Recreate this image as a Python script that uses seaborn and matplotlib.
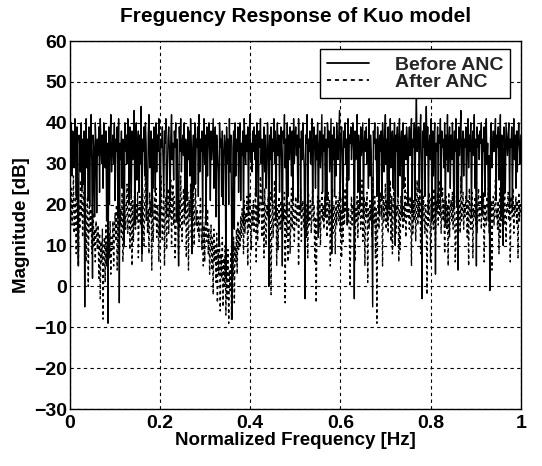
import numpy as np
import pandas as pd
import matplotlib
matplotlib.use("Agg")
import matplotlib.pyplot as plt
import seaborn as sns

title = "Freguency Response of Kuo model"
xlabel = "Normalized Frequency [Hz]"
ylabel = "Magnitude [dB]"
series_names = ["Before ANC", "After ANC"]
xticks = [0, 0.2, 0.4, 0.6, 0.8, 1]
xtick_labels = ["0", "0.2", "0.4", "0.6", "0.8", "1"]
yticks = [-30, -20, -10, 0, 10, 20, 30, 40, 50, 60]

# magnitude (dB), Before ANC
before_db = [
    36, 31, 40, 27, 38, 33, 29, 41, 35, 22, 39, 18, 5, 37, 34, 28, 40, 24, 36, 25,
    38, -5, 33, 41, 29, 36, 21, 39, 20, 35, 42, 30, 2, 37, 33, 17, 40, 34, 18, 36,
    32, 39, 23, 41, 35, 30, 37, 24, 40, 33, 29, 38, 16, 35, -9, 39, 20, 36, 42, 28,
    34, 37, 30, 40, 21, 36, 33, 39, 17, 41, -4, 35, 31, 38, 24, 36, 19, 10, 40, 33,
    37, 30, 41, 35, 20, 39, 33, 22, 38, 31, 36, 43, 15, 35, 40, 26, 34, 38, 23, 37,
    30, 44, 8, 36, 33, 39, 27, 40, 35, 21, 20, 37, 42, 29, 34, 38, 18, 36, 24, 39,
    35, 23, 40, 28, 37, 33, 41, 29, 12, 36, 34, 39, 30, 22, 38, 35, 41, 17, 27, 36,
    39, 33, 21, 37, 42, 31, 35, 26, 38, 34, 40, 16, 36, 19, 5, 39, 33, 41, 28, 35,
    37, 32, 40, 18, 36, 34, 21, 39, 31, 38, 27, 41, 35, 8, 33, 37, 24, 40, 25, 36,
    34, 39, 22, 42, 28, 36, 33, 38, 18, 35, 41, 30, 37, 15, 39, 27, 36, 40, 33, 21,
    38, 31, 36, 41, 24, 35, 39, 17, 37, 33, 28, 10, 40, 34, 36, 22, 38, 20, 32, 37,
    35, 2, 39, 30, 36, 20, 41, 28, 37, 19, -8, 34, 38, 14, 40, 27, 36, 33, 39, 23,
    36, 40, 21, 35, 32, 38, 15, 41, 34, 30, 37, 33, 39, 18, 36, 42, 31, 35, 28, 38,
    33, 39, 31, 37, 22, 40, 35, 16, 38, 34, 41, 30, 36, 20, 33, 39, 28, 37, 24, 31,
    40, 34, 0, 37, 31, 39, 21, 36, 33, 41, 30, 38, 17, 35, 40, 32, 37, 23, 34, 39,
    31, 5, 38, 35, 42, 29, 36, 18, 40, 22, 37, 31, 39, 34, 27, 38, 21, 41, 30, 36,
    39, 32, 37, 21, 41, 34, 36, 19, 38, 31, 40, 33, 29, -3, 37, 35, 42, 16, 36, 33,
    38, 30, 36, 41, 20, 35, 39, 33, 24, 37, 31, 40, 12, 34, 38, 29, 36, 42, 23, 37,
    33, 39, 17, 36, 21, 40, 34, 38, 28, 35, 41, 8, 37, 31, 39, 22, 36, 27, 40, 35,
    31, 37, 43, 21, 35, 39, 32, 18, 38, 34, 40, 30, 36, 15, 41, 26, 37, 35, 39, 31,
    36, 40, 33, -3, 38, 31, 35, 42, 23, 37, 34, 20, 39, 32, 36, 40, 17, 35, 38, 33,
    39, 30, 36, 24, 41, 27, 37, 33, 15, -5, 38, 35, 40, 31, 36, 22, 39, 34, 18, 37,
    33, 38, 21, 40, 35, 28, 37, 42, 30, 36, 16, 39, 19, 33, 41, 29, 36, 38, 24, 35,
    40, 10, 37, 33, 39, 22, 36, 41, 27, 35, 38, 17, 40, 24, 34, 37, 31, 39, 36, 20,
    35, 39, 32, 37, 41, 18, 36, 34, 40, 21, 38, 46, 33, 35, 39, 23, 37, 42, 31, -3,
    38, 34, 40, 22, 36, 44, 32, 39, 18, 35, 37, 31, 41, 16, 38, 27, 36, 40, 3, 35,
    33, 39, 20, 37, 35, 41, 22, 38, 34, 36, 29, 40, 15, 37, 31, 42, 28, 35, 39, 24,
    37, 31, 40, 35, 19, 38, 33, 41, 20, 36, 4, 39, 32, 37, 43, 23, 35, 38, 27, 36,
    34, 39, 21, 36, 41, 29, 37, 33, 40, 17, 35, 38, 32, 42, 24, 36, 5, 39, 34, 37,
    31, 38, 35, 40, 18, 36, 33, 39, 22, 37, 41, 30, 35, 16, 32, -1, 36, 40, 29, 34,
    38, 33, 36, 41, 21, 37, 34, 39, 26, 35, 42, 17, 37, 33, 10, 39, 35, 23, 40, 36,
    32, 37, 40, 20, 36, 34, 39, 19, 35, 41, 31, 37, 24, 38, 28, 36, 40, 34, 30, 37,
]

# magnitude (dB), After ANC
after_db = [
    21, 17, 24, 15, 20, 27, 13, 19, 22, 8, 24, 18, 5, 20, 14, 26, 17, 25, 12, 19,
    23, 16, 20, 6, 18, 22, 0, 17, 21, 13, 19, 8, 15, 18, 10, 14, 6, 16, 12, 9,
    15, 2, 13, -3, 11, 6, 14, -8, 9, 12, 1, 15, 5, 10, -2, 13, 7, 16, 3, 12,
    9, 16, 5, 13, 18, 11, 20, 4, 17, 8, 21, 15, 19, 12, 23, 6, 10, 22, 18, 14,
    20, 25, 13, 18, 27, 9, 17, 24, 5, 21, 11, 19, 26, 14, 20, 16, 23, 7, 18, 22,
    15, 21, 6, 24, 18, 10, 20, 28, 16, 22, 13, 19, 8, 23, 17, 21, 4, 25, 11, 19,
    22, 16, 24, 12, 20, 18, 6, 21, 15, 27, 19, 11, 17, 25, 5, 20, 22, 9, 18, 24,
    13, 21, 17, 26, 10, 19, 25, 15, 22, 7, 12, 20, 24, 16, 8, 21, 14, 27, 19, 11,
    20, 24, 15, 18, 22, 7, 19, 23, 4, 21, 17, 25, 12, 20, 16, 26, 10, 18, 24, 15,
    19, 13, 17, 11, 16, 22, 14, 9, 18, 5, 15, 6, 17, 13, 11, 19, 8, 14, 3, 10,
    15, 4, 12, -2, 14, 6, 10, 1, 13, -4, 9, 3, 11, -6, 8, 2, 12, -5, 7, 0,
    10, -7, 6, -3, 9, -9, 4, -1, 8, -8, 5, 2, 12, -4, 10, 6, 14, 3, 16, 9,
    14, 10, 17, 12, 19, 15, 8, 21, 13, 18, 16, 22, 5, 20, 14, 23, 17, 9, 19, 15,
    21, 13, 18, 24, 6, 20, 11, 22, 15, 19, 27, 23, 12, 18, 21, 7, 24, 16, 10, 20,
    17, 22, 14, 19, 23, -2, 16, 21, 12, 18, 26, 15, 24, 5, 19, 9, 22, 17, 14, 21,
    18, 13, 20, 16, 23, -4, 19, 12, 22, 6, 15, 21, 8, 18, 24, 14, 27, 16, 11, 19,
    22, 15, 19, 23, 5, 20, 17, 24, 11, 18, 21, 16, 14, 26, 19, 12, 20, 7, 23, 15,
    18, 21, 13, 19, 24, 16, 20, 6, 17, -4, 15, 22, 18, 14, 21, 10, 19, 23, 16, 20,
    14, 22, 17, 26, 12, 18, 23, 15, 21, 5, 19, 16, 24, 13, 20, 18, 8, 22, 15, 19,
    21, 16, 23, 13, 19, 7, 22, 11, 20, 15, 24, 18, 27, 21, 16, 19, 12, 0, 17, 22,
    15, 20, 18, 23, 6, 19, 16, 22, 12, 21, 17, 24, 14, 19, 26, 11, 18, 22, 5, 21,
    17, 23, 1, 19, 14, 21, 16, 20, 12, 27, 18, 15, 22, 7, 19, -9, 16, 21, 14, 20,
    23, 17, 20, 5, 22, 16, 19, 25, 14, 21, 18, 13, 23, 17, 26, 11, 22, 8, 19, 24,
    16, 21, 13, 20, 18, 23, 6, 19, 9, 22, 17, 24, 14, 20, 16, 27, 12, 19, 23, 17,
    20, 14, 22, 17, 5, 24, 13, 21, 16, 23, 11, 18, 26, 15, 22, 17, 24, 8, 19, 21,
    16, 22, 18, 13, 20, 17, -2, 21, 15, 23, 19, 6, 22, 17, 20, 14, 24, 16, 10, 21,
    18, 23, 15, 26, 17, 22, 13, 19, 24, 16, 21, 8, 18, 22, 14, 20, 5, 23, 12, 19,
    21, 16, 23, 14, 19, 22, 6, 11, 20, 24, 15, 18, 21, 13, 27, 16, 19, 23, 14, 20,
    17, 22, 19, 12, 21, 5, 24, 18, 14, 20, 23, 7, 19, 17, 22, 15, 26, 13, 20, 24,
    16, 19, 22, 14, 21, 17, 23, 6, 20, 18, 15, 22, 19, 24, 13, 20, 17, 21, 4, 19,
    22, 15, 20, 26, 17, 19, 14, 21, 8, 24, 12, 20, 16, 22, 19, 15, 23, 17, 11, 20,
    18, 23, 16, 21, 6, 22, 19, 17, 24, 13, 20, 18, 22, 15, 21, 7, 23, 16, 20, 18,
]

freq = np.linspace(0, 1, len(before_db))
df = pd.DataFrame({"freq": freq, "before": before_db, "after": after_db})

sns.set_style("white")
plt.rcParams["font.family"] = ["Liberation Sans", "DejaVu Sans"]
plt.rcParams["font.weight"] = "bold"

fig = plt.figure(figsize=(5.42, 4.66), dpi=100)
ax = fig.add_axes([0.129, 0.122, 0.832, 0.79])

sns.lineplot(data=df, x="freq", y="before", color="black", linewidth=1.0,
             ax=ax, label=series_names[0], sort=False, estimator=None)
sns.lineplot(data=df, x="freq", y="after", color="black", linewidth=1.0,
             ax=ax, label=series_names[1], sort=False, estimator=None)
ax.lines[1].set_dashes([2.2, 2.2])

ax.set_xlim(0, 1)
ax.set_ylim(-30, 60)
ax.set_xticks(xticks)
ax.set_xticklabels(xtick_labels)
ax.set_yticks(yticks)
ax.tick_params(axis="both", labelsize=14, direction="in", length=3,
               color="black", labelcolor="black")
ax.tick_params(axis="x", pad=4)
ax.tick_params(axis="y", pad=2)
ax.grid(True, color="black", linestyle=(0, (3, 3)), linewidth=0.8)
for s in ax.spines.values():
    s.set_color("black")
    s.set_linewidth(1.0)

ax.set_title(title, fontsize=15, fontweight="bold", color="black", pad=14)
ax.set_xlabel(xlabel, fontsize=13.5, fontweight="bold", color="black", labelpad=0)
ax.set_ylabel(ylabel, fontsize=13.5, fontweight="bold", color="black", labelpad=3)

leg = ax.legend(loc="upper right", bbox_to_anchor=(0.976, 0.978),
                borderaxespad=0, prop={"size": 14, "weight": "bold"},
                frameon=True, fancybox=False,
                framealpha=1, edgecolor="black", handlelength=2.2,
                handletextpad=1.3, labelspacing=0.0, borderpad=0.35)
leg.get_frame().set_linewidth(1.0)
leg.legend_handles[1].set_dashes([2.2, 2.2])
leg.legend_handles[0].set_linewidth(1.3)
leg.legend_handles[1].set_linewidth(1.3)

fig.savefig("out.png", dpi=100)
